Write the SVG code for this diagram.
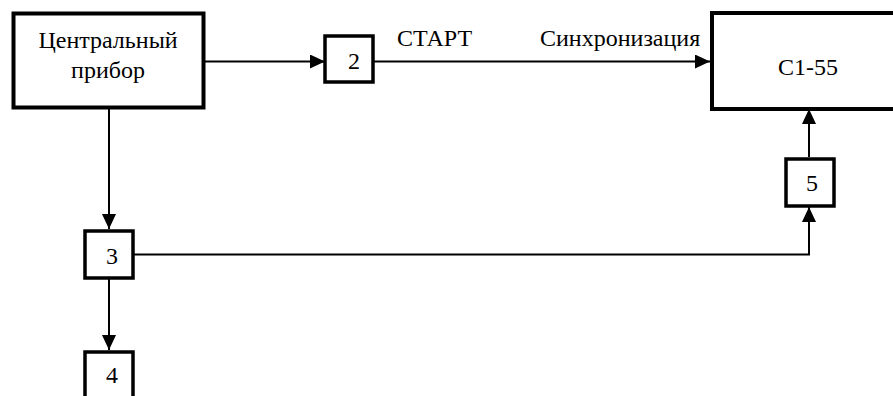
<svg xmlns="http://www.w3.org/2000/svg" width="893" height="396" viewBox="0 0 893 396">
  <style>
    .box { fill: #fff; stroke: #000; }
    .big { stroke-width: 4; }
    .small { stroke-width: 3.5; }
    .lbl { font-family: 'Liberation Serif', 'Times New Roman', serif; font-size: 24px; fill: #000; }
    .wire { fill: none; stroke: #000; stroke-width: 2; }
  </style>
  <defs>
    <marker id="arrow" markerWidth="15" markerHeight="14" refX="15" refY="7" orient="auto" markerUnits="userSpaceOnUse">
      <path d="M0,0 L15,7 L0,14 Z" fill="#000"/>
    </marker>
  </defs>

  <g id="connectors">
    <line class="wire" x1="205" y1="61.5" x2="325" y2="61.5" marker-end="url(#arrow)"/>
    <line class="wire" x1="374" y1="61.5" x2="710" y2="61.5" marker-end="url(#arrow)"/>
    <line class="wire" x1="109" y1="109" x2="109" y2="229" marker-end="url(#arrow)"/>
    <line class="wire" x1="109" y1="279" x2="109" y2="350" marker-end="url(#arrow)"/>
    <polyline class="wire" points="134,254.5 809,254.5 809,207" marker-end="url(#arrow)"/>
    <line class="wire" x1="809" y1="157" x2="809" y2="109" marker-end="url(#arrow)"/>
    <text class="lbl" x="397" y="46">СТАРТ</text>
    <text class="lbl" x="540" y="46">Синхронизация</text>
  </g>

  <g id="central">
    <rect class="box big" x="13.5" y="13.5" width="190" height="94"/>
    <text class="lbl" x="108" y="48" text-anchor="middle">Центральный</text>
    <text class="lbl" x="108" y="78" text-anchor="middle">прибор</text>
  </g>

  <g id="n2">
    <rect class="box small" x="325" y="36" width="48" height="46"/>
    <text class="lbl" x="354" y="69" text-anchor="middle">2</text>
  </g>

  <g id="c1-55">
    <rect class="box big" x="712" y="13" width="200" height="96"/>
    <text class="lbl" x="808" y="75" text-anchor="middle">С1-55</text>
  </g>

  <g id="n3">
    <rect class="box small" x="85" y="231" width="48" height="47"/>
    <text class="lbl" x="112" y="264" text-anchor="middle">3</text>
  </g>

  <g id="n4">
    <rect class="box small" x="85" y="352" width="48" height="47"/>
    <text class="lbl" x="112" y="383" text-anchor="middle">4</text>
  </g>

  <g id="n5">
    <rect class="box small" x="786" y="159" width="48" height="47"/>
    <text class="lbl" x="812" y="191" text-anchor="middle">5</text>
  </g>
</svg>
